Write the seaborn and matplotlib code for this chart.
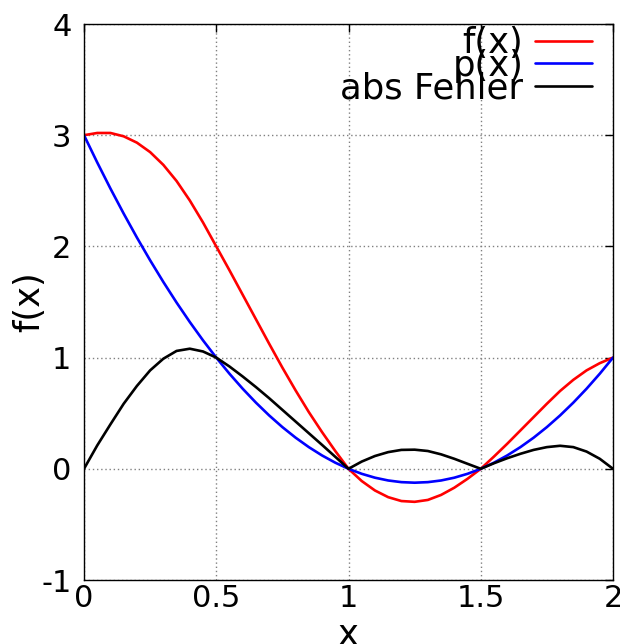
import numpy as np
import pandas as pd
import matplotlib
matplotlib.use("Agg")
import matplotlib.pyplot as plt
import seaborn as sns
from matplotlib.lines import Line2D

x_vals = [0.00, 0.05, 0.10, 0.15, 0.20, 0.25, 0.30, 0.35, 0.40, 0.45,
          0.50, 0.55, 0.60, 0.65, 0.70, 0.75, 0.80, 0.85, 0.90, 0.95,
          1.00, 1.05, 1.10, 1.15, 1.20, 1.25, 1.30, 1.35, 1.40, 1.45,
          1.50, 1.55, 1.60, 1.65, 1.70, 1.75, 1.80, 1.85, 1.90, 1.95, 2.00]

f_vals = [3.000, 3.020, 3.020, 2.990, 2.933, 2.848, 2.733, 2.588, 2.413, 2.215,
          2.000, 1.785, 1.565, 1.345, 1.125, 0.910, 0.705, 0.510, 0.330, 0.160,
          0.000, -0.110, -0.195, -0.255, -0.290, -0.297, -0.280, -0.235, -0.170, -0.090,
          0.000, 0.110, 0.225, 0.345, 0.465, 0.585, 0.700, 0.800, 0.885, 0.950, 1.000]

p_vals = [3.000, 2.755, 2.520, 2.295, 2.080, 1.875, 1.680, 1.495, 1.320, 1.155,
          1.000, 0.855, 0.720, 0.595, 0.480, 0.375, 0.280, 0.195, 0.120, 0.055,
          0.000, -0.045, -0.080, -0.105, -0.120, -0.125, -0.120, -0.105, -0.080, -0.045,
          0.000, 0.055, 0.120, 0.195, 0.280, 0.375, 0.480, 0.595, 0.720, 0.855, 1.000]

err_vals = [0.000, 0.210, 0.400, 0.585, 0.745, 0.885, 0.990, 1.060, 1.080, 1.055,
            1.000, 0.920, 0.830, 0.735, 0.635, 0.530, 0.425, 0.320, 0.215, 0.108,
            0.000, 0.065, 0.115, 0.150, 0.170, 0.172, 0.160, 0.130, 0.090, 0.045,
            0.000, 0.050, 0.095, 0.135, 0.170, 0.195, 0.207, 0.195, 0.155, 0.090, 0.000]

series_names = ["f(x)", "p(x)", "abs Fehler"]
series_colors = ["#ff0000", "#0000ff", "#000000"]

x_ticks = [0, 0.5, 1, 1.5, 2]
x_ticklabels = ["0", "0.5", "1", "1.5", "2"]
y_ticks = [-1, 0, 1, 2, 3, 4]
y_ticklabels = ["-1", "0", "1", "2", "3", "4"]

sns.set_style("white")
plt.rcParams["font.family"] = ["DejaVu Sans"]
plt.rcParams["text.color"] = "black"
plt.rcParams["axes.labelcolor"] = "black"
plt.rcParams["xtick.color"] = "black"
plt.rcParams["ytick.color"] = "black"

df = pd.DataFrame({
    "x": x_vals * 3,
    "y": f_vals + p_vals + err_vals,
    "series": [series_names[0]] * len(x_vals) + [series_names[1]] * len(x_vals)
              + [series_names[2]] * len(x_vals),
})

fig = plt.figure(figsize=(6.2, 6.44), dpi=100)
ax = fig.add_axes([84 / 620, 1 - 580 / 644, (613 - 84) / 620, (580 - 24) / 644])

sns.lineplot(data=df, x="x", y="y", hue="series", hue_order=series_names,
             palette=series_colors, linewidth=1.9, ax=ax, sort=False,
             estimator=None, legend=False)

ax.set_xlim(0, 2)
ax.set_ylim(-1, 4)
ax.set_xticks(x_ticks)
ax.set_xticklabels(x_ticklabels)
ax.set_yticks(y_ticks)
ax.set_yticklabels(y_ticklabels)

ax.grid(True, color="#808080", linestyle=(0, (1, 2)), linewidth=1.0)
ax.set_axisbelow(True)
for s in ax.spines.values():
    s.set_visible(True)
    s.set_color("black")
    s.set_linewidth(1.0)

ax.tick_params(axis="both", direction="in", length=6, width=1, color="black",
               top=True, right=True, labelsize=22, labelcolor="black")
ax.tick_params(axis="x", pad=3)
ax.tick_params(axis="y", pad=9)

ax.set_xlabel("x", fontsize=25.5)
ax.set_ylabel("f(x)", fontsize=25.5)
ax.xaxis.set_label_coords(0.5, -0.068)
ax.yaxis.set_label_coords(-0.071, 0.5)

# legend in gnuplot style (text right-aligned before the sample line)
handles = [Line2D([], [], color=c, linewidth=1.9) for c in series_colors]
leg = ax.legend(handles, series_names, loc="upper right", frameon=False,
                markerfirst=False, fontsize=25.5, handlelength=1.6,
                handletextpad=0.34, labelspacing=-0.32,
                borderaxespad=0.0, borderpad=0.0,
                bbox_to_anchor=(0.9603, 0.9964))

fig.savefig("out.png", dpi=100)
